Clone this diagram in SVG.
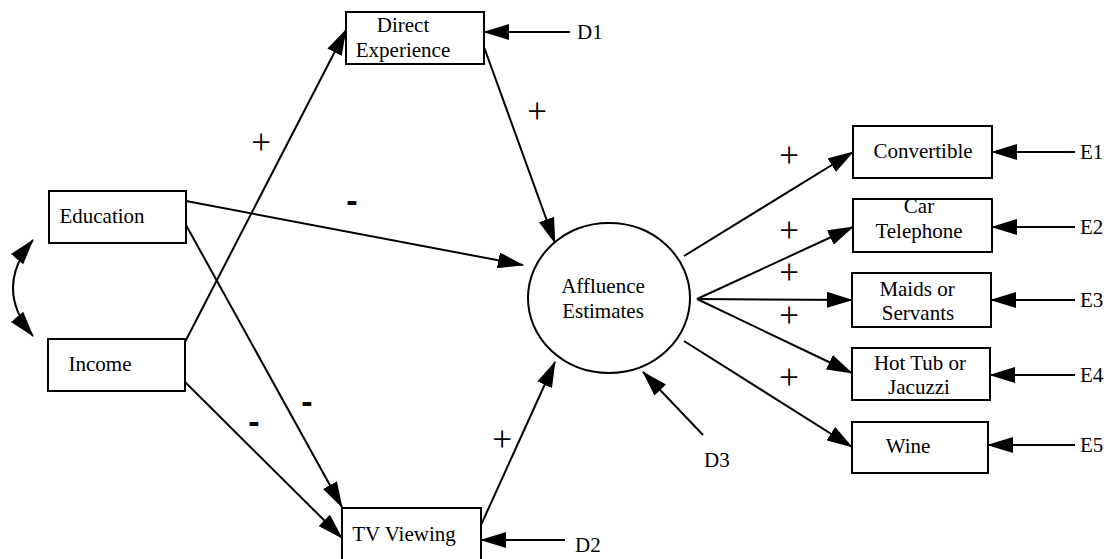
<svg xmlns="http://www.w3.org/2000/svg" width="1110" height="559" viewBox="0 0 1110 559">
<style>
  .box { fill: #fff; stroke: #000; stroke-width: 2; }
  .lbl { font-family: "Liberation Serif", "Times New Roman", serif; font-size: 21px; fill: #000; text-anchor: middle; }
  .lft { font-family: "Liberation Serif", "Times New Roman", serif; font-size: 21px; fill: #000; }
  .plus { font-family: "Liberation Serif", "Times New Roman", serif; font-size: 35px; fill: #000; text-anchor: middle; }
  .minus { font-family: "Liberation Sans", Arial, sans-serif; font-weight: bold; font-size: 34px; fill: #000; text-anchor: middle; }
  .edge { fill: none; stroke: #000; stroke-width: 2; marker-end: url(#ah); }
</style>
<defs>
  <marker id="ah" viewBox="0 0 26 16" refX="25" refY="8" markerWidth="26" markerHeight="16" markerUnits="userSpaceOnUse" orient="auto-start-reverse">
    <path d="M0,0 L26,8 L0,16 z" fill="#000"/>
  </marker>
</defs>
<rect width="1110" height="559" fill="#fff"/>

<g id="connectors">
  <path class="edge" d="M33,240 Q-7,288 33,336" marker-start="url(#ah)"/>
  <line class="edge" x1="186" y1="201" x2="523" y2="265"/>
  <line class="edge" x1="186" y1="225" x2="342" y2="507"/>
  <line class="edge" x1="185" y1="342" x2="346" y2="30"/>
  <line class="edge" x1="185" y1="382" x2="342" y2="538"/>
  <line class="edge" x1="484" y1="47" x2="555" y2="243"/>
  <line class="edge" x1="481" y1="525" x2="555" y2="362"/>
  <line class="edge" x1="684" y1="256" x2="853" y2="152"/>
  <line class="edge" x1="697" y1="299" x2="853" y2="227"/>
  <line class="edge" x1="697" y1="299" x2="852" y2="300"/>
  <line class="edge" x1="697" y1="299" x2="852" y2="373"/>
  <line class="edge" x1="684" y1="341" x2="852" y2="447"/>
  <line class="edge" x1="570" y1="32" x2="484" y2="32"/>
  <line class="edge" x1="565" y1="540" x2="481" y2="540"/>
  <line class="edge" x1="703" y1="435" x2="643" y2="372"/>
  <line class="edge" x1="1075" y1="152" x2="992" y2="152"/>
  <line class="edge" x1="1075" y1="227" x2="992" y2="227"/>
  <line class="edge" x1="1075" y1="300" x2="991" y2="300"/>
  <line class="edge" x1="1075" y1="375" x2="990" y2="375"/>
  <line class="edge" x1="1075" y1="445" x2="988" y2="445"/>
</g>

<g id="signs">
  <text class="plus" x="261" y="154">+</text>
  <text class="plus" x="537" y="123">+</text>
  <text class="plus" x="789" y="167">+</text>
  <text class="plus" x="789" y="242">+</text>
  <text class="plus" x="789" y="284">+</text>
  <text class="plus" x="789" y="327">+</text>
  <text class="plus" x="789" y="389">+</text>
  <text class="plus" x="502" y="451">+</text>
  <text class="minus" x="352" y="212">-</text>
  <text class="minus" x="307" y="413">-</text>
  <text class="minus" x="254" y="433">-</text>
</g>

<g id="direct-experience">
  <rect class="box" x="346" y="12" width="138" height="52"/>
  <text class="lbl" x="403" y="32">Direct</text>
  <text class="lbl" x="403" y="57">Experience</text>
</g>
<g id="education">
  <rect class="box" x="49" y="191" width="137" height="52"/>
  <text class="lbl" x="102" y="223">Education</text>
</g>
<g id="income">
  <rect class="box" x="48" y="339" width="137" height="52"/>
  <text class="lbl" x="100" y="371">Income</text>
</g>
<g id="tv-viewing">
  <rect class="box" x="342" y="508" width="139" height="60"/>
  <text class="lbl" x="404" y="541">TV Viewing</text>
</g>
<g id="affluence">
  <ellipse cx="609" cy="298" rx="81" ry="75" fill="#fff" stroke="#000" stroke-width="2"/>
  <text class="lbl" x="603" y="293">Affluence</text>
  <text class="lbl" x="603" y="318">Estimates</text>
</g>
<g id="convertible">
  <rect class="box" x="853" y="126" width="139" height="52"/>
  <text class="lbl" x="923" y="158">Convertible</text>
</g>
<g id="car-telephone">
  <rect class="box" x="853" y="199" width="139" height="53"/>
  <text class="lbl" x="919" y="213">Car</text>
  <text class="lbl" x="919" y="238">Telephone</text>
</g>
<g id="maids">
  <rect class="box" x="852" y="273" width="139" height="54"/>
  <text class="lbl" x="917" y="296">Maids or</text>
  <text class="lbl" x="918" y="320">Servants</text>
</g>
<g id="hot-tub">
  <rect class="box" x="852" y="348" width="138" height="52"/>
  <text class="lbl" x="920" y="370">Hot Tub or</text>
  <text class="lbl" x="919" y="394">Jacuzzi</text>
</g>
<g id="wine">
  <rect class="box" x="852" y="422" width="136" height="51"/>
  <text class="lbl" x="908" y="453">Wine</text>
</g>
<g id="disturbances">
  <text class="lft" x="577" y="39">D1</text>
  <text class="lft" x="575" y="552">D2</text>
  <text class="lft" x="704" y="467">D3</text>
  <text class="lft" x="1080" y="159">E1</text>
  <text class="lft" x="1080" y="234">E2</text>
  <text class="lft" x="1080" y="307">E3</text>
  <text class="lft" x="1080" y="382">E4</text>
  <text class="lft" x="1080" y="452">E5</text>
</g>
</svg>
